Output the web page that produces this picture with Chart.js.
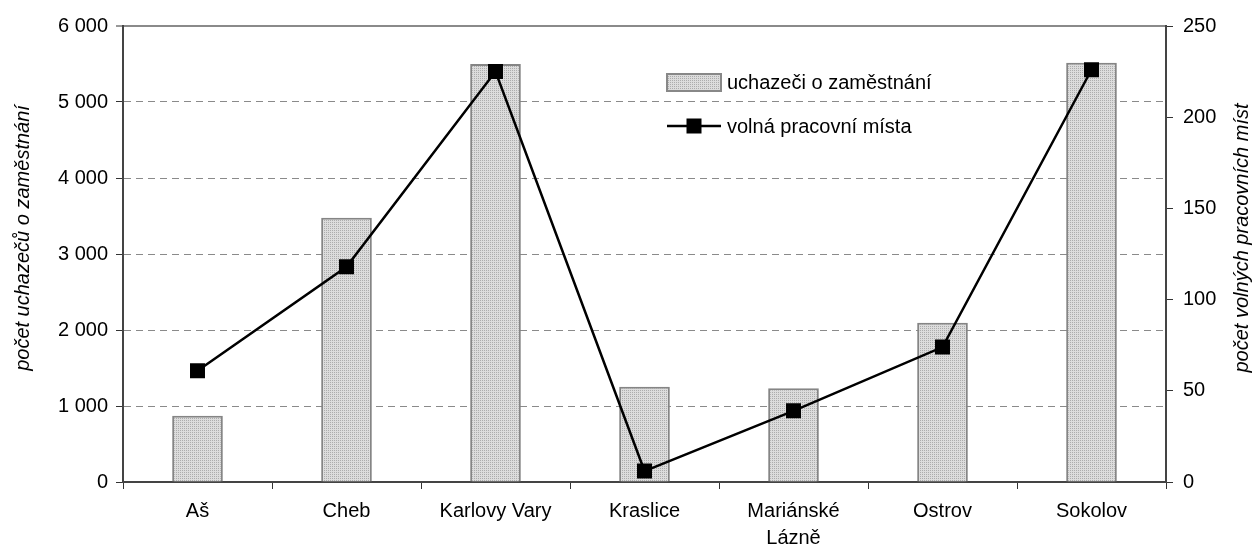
<!DOCTYPE html>
<html>
<head>
<meta charset="utf-8">
<script src="https://cdn.jsdelivr.net/npm/chart.js@4.4.1/dist/chart.umd.min.js"></script>
<style>
  html, body { margin: 0; padding: 0; background: #fff; }
  #wrap { width: 1255px; height: 549px; }
</style>
</head>
<body>
<div id="wrap"><canvas id="c" width="1255" height="549"></canvas></div>
<script>
// data
const categories = ['Aš', 'Cheb', 'Karlovy Vary', 'Kraslice', ['Mariánské', 'Lázně'], 'Ostrov', 'Sokolov'];
const uchazeci = [872, 3478, 5500, 1254, 1233, 2096, 5515];
const volnaMista = [61, 118, 225, 6, 39, 74, 226];
const leftTicks = [0, 1000, 2000, 3000, 4000, 5000, 6000];
const rightTicks = [0, 50, 100, 150, 200, 250];
const leftTitle = 'počet uchazečů o zaměstnání';
const rightTitle = 'počet volných pracovních míst';

const FONT = 'Liberation Sans, Arial, sans-serif';
const FS = 20;

// dotted grey fill like the old excel pattern
function dotPattern() {
    const p = document.createElement('canvas');
    p.width = 4; p.height = 4;
    const g = p.getContext('2d');
    g.fillStyle = '#dcdcdc';
    g.fillRect(0, 0, 4, 4);
    g.fillStyle = '#acacac';
    g.fillRect(0, 0, 1, 1); g.fillRect(2, 2, 1, 1);
    g.fillRect(2, 0, 1, 1); g.fillRect(0, 2, 1, 1);
    return document.getElementById('c').getContext('2d').createPattern(p, 'repeat');
}
const fill = dotPattern();

const fmt = v => String(v).replace(/\B(?=(\d{3})+(?!\d))/g, ' ');

// legend inside the plot + rotated axis titles
const extras = {
    id: 'extras',
    afterDraw(chart) {
        const ctx = chart.ctx;
        const bar = chart.data.datasets.find(d => d.type === 'bar');
        const line = chart.data.datasets.find(d => d.type === 'line');
        const x = 667, y1 = 82, y2 = 126;
        ctx.save();
        ctx.fillStyle = fill;
        ctx.fillRect(x, y1 - 8, 54, 17);
        ctx.strokeStyle = '#888';
        ctx.lineWidth = 2;
        ctx.strokeRect(x, y1 - 8, 54, 17);
        ctx.strokeStyle = '#000';
        ctx.lineWidth = 2.5;
        ctx.beginPath(); ctx.moveTo(x, y2); ctx.lineTo(x + 54, y2); ctx.stroke();
        ctx.fillStyle = '#000';
        ctx.fillRect(x + 27 - 7.5, y2 - 7.5, 15, 15);
        ctx.font = FS + 'px ' + FONT;
        ctx.textBaseline = 'middle';
        ctx.fillText(bar.label, x + 60, y1 + 1);
        ctx.fillText(line.label, x + 60, y2 + 1);

        ctx.font = 'italic ' + FS + 'px ' + FONT;
        ctx.textAlign = 'center';
        ctx.save();
        ctx.translate(23, 238);
        ctx.rotate(-Math.PI / 2);
        ctx.fillText(leftTitle, 0, 0);
        ctx.restore();
        ctx.save();
        ctx.translate(1242, 238);
        ctx.rotate(-Math.PI / 2);
        ctx.fillText(rightTitle, 0, 0);
        ctx.restore();
        ctx.restore();
    }
};

new Chart(document.getElementById('c'), {
    data: {
        labels: categories,
        datasets: [
            { type: 'line', label: 'volná pracovní místa', data: volnaMista, yAxisID: 'y1',
              borderColor: '#000', borderWidth: 2.5, pointStyle: 'rect', pointRadius: 10.6,
              pointBackgroundColor: '#000', pointBorderColor: '#000', pointBorderWidth: 0, tension: 0, order: 0 },
            { type: 'bar', label: 'uchazeči o zaměstnání', data: uchazeci, yAxisID: 'y',
              backgroundColor: fill, borderColor: '#858585', borderWidth: 2, borderSkipped: 'bottom',
              barPercentage: 0.34, categoryPercentage: 1, order: 1 }
        ]
    },
    options: {
        responsive: false,
        animation: false,
        layout: { padding: { top: 26, right: 0, left: 0, bottom: 0 } },
        plugins: { legend: { display: false }, tooltip: { enabled: false } },
        scales: {
            x: {
                afterFit: s => { s.height = 67; },
                grid: { display: true, drawOnChartArea: false, offset: true, tickLength: 7, tickColor: '#333', tickWidth: 1 },
                border: { color: '#444', width: 2 },
                ticks: { color: '#000', font: { family: FONT, size: FS, lineHeight: 1.35 }, padding: 9, maxRotation: 0, autoSkip: false }
            },
            y: {
                position: 'left', min: 0, max: 6000,
                afterFit: s => { s.width = 123; },
                afterBuildTicks: s => { s.ticks = leftTicks.map(v => ({ value: v })); },
                grid: {
                    color: c => c.tick.value === 0 ? 'rgba(0,0,0,0)' : '#8a8a8a',
                    lineWidth: c => c.tick.value === 6000 ? 2 : 1,
                    tickLength: 7, tickColor: '#333', tickWidth: 1, tickBorderDash: []
                },
                border: { color: '#444', width: 2, dash: c => c.tick && c.tick.value === 6000 ? [] : [7, 5] },
                ticks: { color: '#000', font: { family: FONT, size: FS }, padding: 8, callback: v => fmt(v) }
            },
            y1: {
                position: 'right', min: 0, max: 250,
                afterFit: s => { s.width = 89; },
                afterBuildTicks: s => { s.ticks = rightTicks.map(v => ({ value: v })); },
                grid: { drawOnChartArea: false, tickLength: 7, tickColor: '#333', tickWidth: 1 },
                border: { color: '#444', width: 2 },
                ticks: { color: '#000', font: { family: FONT, size: FS }, padding: 10 }
            }
        }
    },
    plugins: [extras]
});
</script>
</body>
</html>
